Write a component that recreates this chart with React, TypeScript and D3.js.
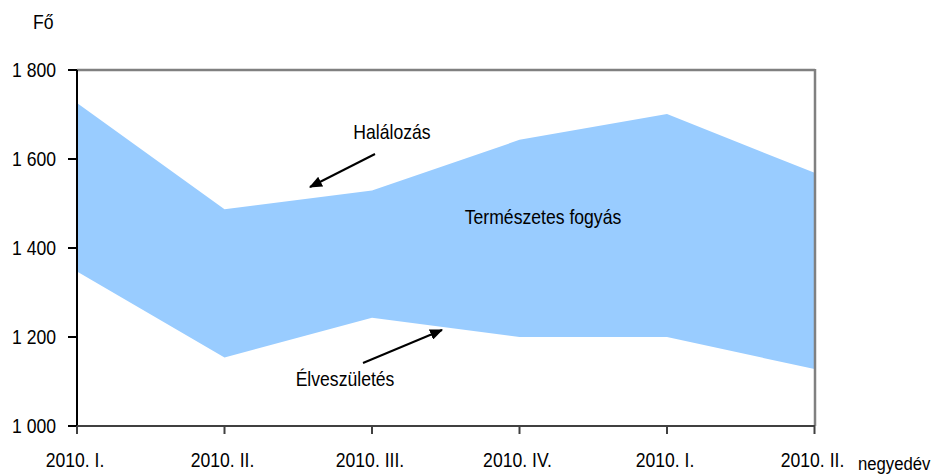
import React from "react";
import * as d3 from "d3";

const categories = ["2010. I.", "2010. II.", "2010. III.", "2010. IV.", "2010. I.", "2010. II."];
const halalozas = [1726, 1487, 1529, 1643, 1701, 1569];
const elveszuletes = [1347, 1154, 1243, 1200, 1200, 1128];
const yTicks = [1000, 1200, 1400, 1600, 1800];

const W = 937;
const H = 475;
const FONT = "'Liberation Sans', Arial, sans-serif";
const SX = 0.88;

function T({ x, y, anchor = "start", size = 20, dy, children }: any) {
  return (
    <g transform={`translate(${x},${y}) scale(${SX},1)`}>
      <text x={0} y={0} dy={dy} textAnchor={anchor} fontSize={size} fill="#000">
        {children}
      </text>
    </g>
  );
}

export default function App() {
  const x = d3.scaleLinear().domain([0, categories.length - 1]).range([77, 814.5]);
  const y = d3.scaleLinear().domain([1000, 1800]).range([426, 70]);
  const fmt = (v: number) => d3.format(",")(v).replace(/,/g, " ");

  const data = categories.map((c, i) => ({ i, hi: halalozas[i], lo: elveszuletes[i] }));
  const area = d3
    .area<{ i: number; hi: number; lo: number }>()
    .x((d) => x(d.i))
    .y0((d) => y(d.lo))
    .y1((d) => y(d.hi));

  return (
    <svg width={W} height={H} style={{ position: "absolute", left: 0, top: 0, fontFamily: FONT }}>
      <defs>
        <marker id="ah" viewBox="0 0 12 10" refX="11" refY="5" markerWidth="6.5" markerHeight="5.5" orient="auto">
          <path d="M0,0 L12,5 L0,10 z" fill="#000" />
        </marker>
      </defs>
      <rect width={W} height={H} fill="#fff" />
      <path d={area(data) || ""} fill="#99CCFF" />
      {/* frame */}
      <line x1={77} x2={815} y1={70} y2={70} stroke="#808080" strokeWidth={2.5} />
      <line x1={815} x2={815} y1={69} y2={426} stroke="#808080" strokeWidth={2.5} />
      <line x1={77} x2={77} y1={70} y2={427} stroke="#000" strokeWidth={2} />
      <line x1={76} x2={815} y1={426} y2={426} stroke="#404040" strokeWidth={2} />
      {yTicks.map((t) => (
        <g key={t}>
          <line x1={68} x2={77} y1={y(t)} y2={y(t)} stroke="#000" strokeWidth={2} />
          <T x={56} y={y(t)} dy="0.35em" anchor="end">
            {fmt(t)}
          </T>
        </g>
      ))}
      {categories.map((c, i) => (
        <g key={i}>
          <line x1={x(i)} x2={x(i)} y1={426} y2={434} stroke="#404040" strokeWidth={2} />
          <T x={x(i) - 2} y={467} anchor="middle">
            {c}
          </T>
        </g>
      ))}
      <T x={858} y={470} size={19}>negyedév</T>
      <T x={33} y={29}>Fő</T>
      <T x={392} y={139} anchor="middle">Halálozás</T>
      <line x1={375} y1={154} x2={310} y2={187} stroke="#000" strokeWidth={2} markerEnd="url(#ah)" />
      <T x={345} y={386} anchor="middle">Élveszületés</T>
      <line x1={363} y1={363} x2={442} y2={330} stroke="#000" strokeWidth={2} markerEnd="url(#ah)" />
      <T x={543} y={224} anchor="middle">Természetes fogyás</T>
    </svg>
  );
}
